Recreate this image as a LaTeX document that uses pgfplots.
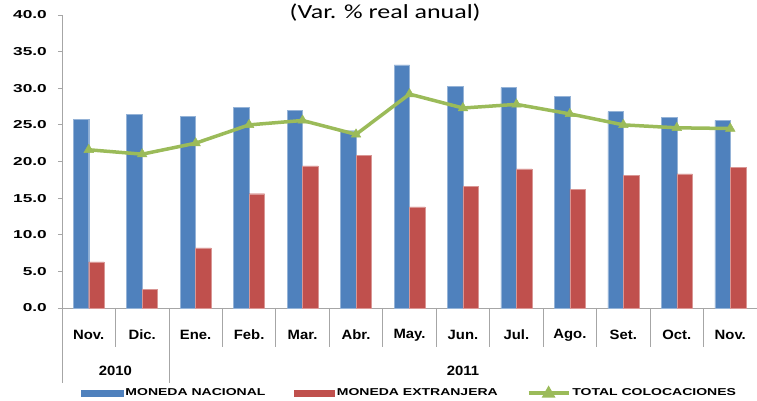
\documentclass[border=0pt]{standalone}
\usepackage{fontspec}
\setmainfont{Liberation Sans}
\newfontfamily\titlefont{Carlito}
\usepackage{pgfplots}
\pgfplotsset{compat=1.18}
\usepackage{graphicx}
\definecolor{cblue}{HTML}{4F81BD}
\definecolor{cred}{HTML}{C0504D}
\definecolor{cgreen}{HTML}{9BBB59}
\definecolor{cgrid}{HTML}{A6A6A6}
\newcommand\sxx[1]{\scalebox{1.5}[1]{#1}}
\newcommand\smm[1]{\scalebox{1.1}[1]{#1}}
\newcommand\sll[1]{\scalebox{1.4}[1]{#1}}
\begin{document}
\begin{tikzpicture}
\useasboundingbox (-62pt,-93pt) rectangle (695pt,308pt);
\begin{axis}[
  at={(0,0)}, anchor=south west,
  scale only axis, width=695pt, height=293pt,
  xmin=-0.5, xmax=12.5, ymin=0, ymax=40,
  axis x line*=bottom, axis y line*=left,
  axis line style={cgrid, line width=0.8pt, -},
  ybar=0pt, bar width=15.5pt,
  xtick={0,...,12},
  xticklabels={\smm{Nov.},\smm{Dic.},\smm{Ene.},\smm{Feb.},\smm{Mar.},\smm{Abr.},\smm{May.},\smm{Jun.},\smm{Jul.},\smm{Ago.},\smm{Set.},\smm{Oct.},\smm{Nov.}},
  x tick style={draw=none},
  xticklabel style={anchor=center, yshift=-23pt, font=\bfseries\fontsize{13.5}{13.5}\selectfont},
  ytick={0,5,...,40},
  y tick style={cgrid, line width=0.8pt},
  tick align=outside, major tick length=4pt,
  yticklabel={\sxx{\pgfmathprintnumber[fixed,fixed zerofill,precision=1]{\tick}}},
  yticklabel style={font=\bfseries\fontsize{11.5}{11.5}\selectfont, anchor=east, xshift=-11pt, inner sep=0pt},
  /pgf/number format/assume math mode=true,
  clip=false,
  legend columns=3,
  legend style={at={(0.5,-0.29)}, anchor=center, draw=none, fill=none,
    font=\bfseries\fontsize{10}{10}\selectfont,
    /tikz/every even column/.append style={column sep=27pt},
    inner sep=0pt},
]
\addplot[fill=cblue, draw=cblue!60!white, line width=0.4pt,
  legend image code/.code={\fill[cblue] (0pt,-3pt) rectangle (42pt,3pt);}]
  coordinates {(0,25.8) (1,26.4) (2,26.2) (3,27.4) (4,27.0) (5,24.2) (6,33.2) (7,30.3) (8,30.1) (9,28.9) (10,26.8) (11,26.0) (12,25.6)};
\addlegendentry{\sll{MONEDA NACIONAL}}
\addplot[fill=cred, draw=cred!60!white, line width=0.4pt,
  legend image code/.code={\fill[cred] (0pt,-3pt) rectangle (40pt,3pt);}]
  coordinates {(0,6.3) (1,2.5) (2,8.2) (3,15.6) (4,19.4) (5,20.8) (6,13.8) (7,16.6) (8,19.0) (9,16.2) (10,18.1) (11,18.3) (12,19.2)};
\addlegendentry{\sll{MONEDA EXTRANJERA}}
\addplot[sharp plot, cgreen, line width=3.5pt, mark=triangle*, mark size=5.5pt,
  mark options={solid, line width=0.5pt},
  legend image code/.code={\draw[cgreen, line width=3.5pt] (0pt,0pt) -- (40pt,0pt);
     \fill[cgreen] (20pt,0pt) ++(0,4pt) -- ++(-4pt,-7pt) -- ++(8pt,0) -- cycle;}]
  coordinates {(0,21.6) (1,21.0) (2,22.5) (3,25.0) (4,25.6) (5,23.7) (6,29.2) (7,27.3) (8,27.8) (9,26.5) (10,25.0) (11,24.6) (12,24.5)};
\addlegendentry{\sll{TOTAL COLOCACIONES}}
\pgfplotsinvokeforeach{0.5,2.5,3.5,4.5,5.5,6.5,7.5,8.5,9.5,10.5,11.5}{
  \draw[cgrid, line width=0.8pt] (axis cs:#1,0) -- ([yshift=-39pt]axis cs:#1,0);
}
\pgfplotsinvokeforeach{-0.5,1.5}{
  \draw[cgrid, line width=0.8pt] (axis cs:#1,0) -- ([yshift=-75pt]axis cs:#1,0);
}
\node[font=\bfseries\fontsize{13.5}{13.5}\selectfont] at (axis cs:0.5,0) [yshift=-63pt] {\smm{2010}};
\node[font=\bfseries\fontsize{13.5}{13.5}\selectfont] at (axis cs:7,0) [yshift=-63pt] {\smm{2011}};
\node[font=\titlefont\fontsize{20}{20}\selectfont] at (axis description cs:0.465,1) [yshift=2pt] {\scalebox{1.3}[1]{(Var. \% real anual)}};
\end{axis}
\end{tikzpicture}
\end{document}
